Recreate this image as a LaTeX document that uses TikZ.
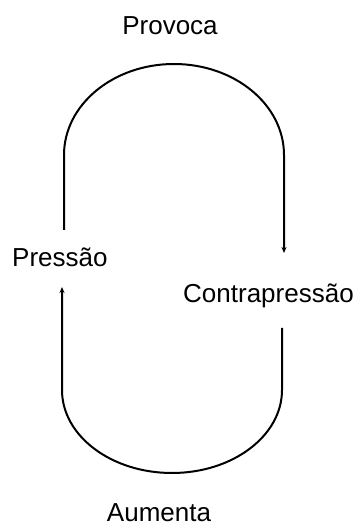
\documentclass[tikz,border=0pt]{standalone}
\usepackage{fontspec}
\setmainfont{Liberation Sans}
\usetikzlibrary{arrows.meta}
\begin{document}
\begin{tikzpicture}[x=1pt,y=1pt,
  lbl/.style={inner sep=0pt,font=\fontsize{26}{30}\selectfont},
  conn/.style={line width=2pt,-{Stealth[length=6pt,width=5pt]}}]
\useasboundingbox (0,0) rectangle (359,525);
\node[lbl,anchor=base] (provoca) at (170,490) {Provoca};
\node[lbl,anchor=base west] (pressao) at (12,258) {Pressão};
\node[lbl,anchor=base west] (contra) at (183,222) {Contrapressão};
\node[lbl,anchor=base,text depth=0pt] (aumenta) at (159,4) {Aumenta};
\coordinate (p1) at (64,295);
\coordinate (c1) at (284,272);
\coordinate (c2) at (282,197);
\coordinate (p2) at (62,238);
\draw[conn] (p1) -- ++(0,75) arc[start angle=180,end angle=0,x radius=110,y radius=91] -- (c1);
\draw[conn] (c2) -- ++(0,-62) arc[start angle=0,end angle=-180,x radius=110,y radius=83] -- (p2);
\end{tikzpicture}
\end{document}
